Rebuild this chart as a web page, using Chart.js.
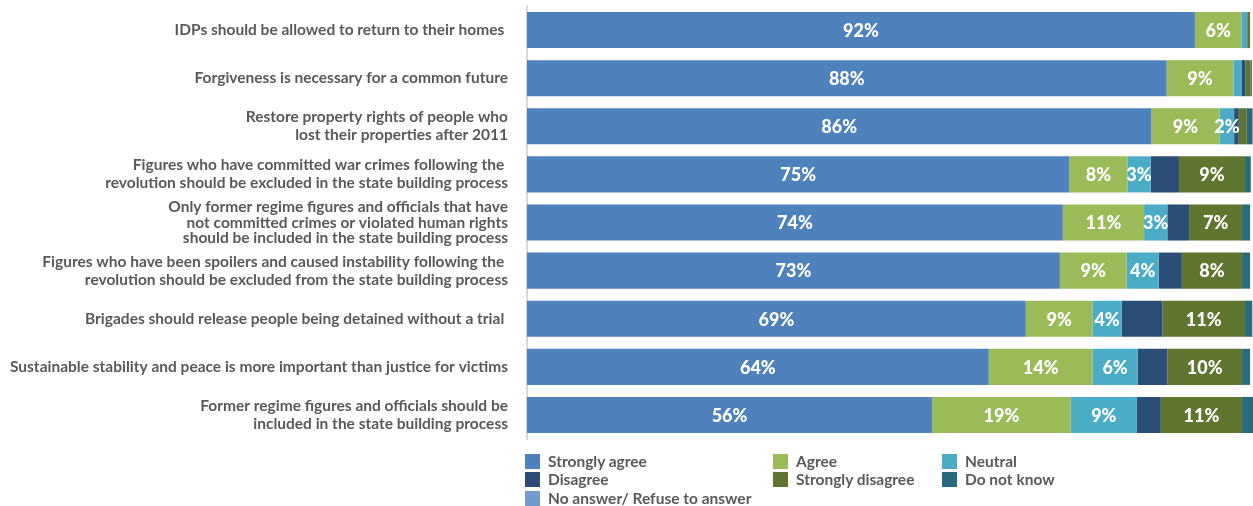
<!DOCTYPE html>
<html>
<head>
<meta charset="utf-8">
<script src="https://cdn.jsdelivr.net/npm/chart.js@4.4.1/dist/chart.umd.min.js"></script>
<style>
  html, body { margin: 0; padding: 0; background: #fff; }
  #wrap { position: relative; width: 1253px; height: 506px; }
  #chart { position: absolute; left: 0; top: 0; }
  .legend { position: absolute; font-family: Lato, "Open Sans", sans-serif; font-weight: 700; font-size: 15.5px; color: #595959; }
  .item { position: absolute; white-space: nowrap; display: flex; align-items: center; }
  .box { width: 15px; height: 15px; margin-right: 8px; }
</style>
</head>
<body>
<div id="wrap">
  <canvas id="chart" width="1253" height="506"></canvas>
  <div class="legend" id="legend"></div>
</div>
<script>
// Survey statements (multi-line labels as arrays)
const categories = [
  "IDPs should be allowed to return to their homes ",
  "Forgiveness is necessary for a common future",
  ["Restore property rights of people who", "lost their properties after 2011"],
  ["Figures who have committed war crimes following the ", "revolution should be excluded in the state building process"],
  ["Only former regime figures and officials that have", "not committed crimes or violated human rights", "should be included in the state building process"],
  ["Figures who have been spoilers and caused instability following the ", "revolution should be excluded from the state building process"],
  "Brigades should release people being detained without a trial ",
  "Sustainable stability and peace is more important than justice for victims",
  ["Former regime figures and officials should be", "included in the state building process"]
];

// Share of respondents (%) per answer
const stronglyAgree    = [92.0, 88.1, 86.0, 74.7, 73.8, 73.4, 68.7, 63.6, 55.8];
const agree            = [6.4, 9.2, 9.4, 8.0, 11.2, 9.2, 9.2, 14.3, 19.1];
const neutral          = [0.8, 1.1, 2.0, 3.2, 3.2, 4.4, 4.0, 6.2, 9.1];
const disagree         = [0.0, 0.55, 0.64, 3.9, 3.0, 3.2, 5.6, 4.1, 3.3];
const stronglyDisagree = [0.4, 0.7, 1.1, 9.1, 7.3, 8.3, 11.4, 10.3, 11.2];
const doNotKnow        = [0.0, 0.2, 0.8, 0.8, 1.1, 1.1, 1.0, 1.1, 1.5];
const noAnswer         = [0, 0, 0, 0, 0, 0, 0, 0, 0];

const series = [
  { label: "Strongly agree", data: stronglyAgree, color: "#4f81bd", showValue: true },
  { label: "Agree", data: agree, color: "#9bbb59", showValue: true },
  { label: "Neutral", data: neutral, color: "#4bacc6", showValue: true },
  { label: "Disagree", data: disagree, color: "#2c4d75", showValue: false },
  { label: "Strongly disagree", data: stronglyDisagree, color: "#5f7530", showValue: true },
  { label: "Do not know", data: doNotKnow, color: "#276a7c", showValue: false },
  { label: "No answer/ Refuse to answer", data: noAnswer, color: "#729aca", showValue: false }
];

// White percentage labels inside the segments
const segmentLabels = {
  id: "segmentLabels",
  afterDatasetsDraw(chart) {
    const ctx = chart.ctx;
    ctx.save();
    ctx.fillStyle = "#ffffff";
    ctx.font = "900 18px Lato, 'Open Sans', sans-serif";
    ctx.textAlign = "center";
    ctx.textBaseline = "middle";
    chart.data.datasets.forEach((ds, i) => {
      if (!ds.showValue) return;
      const meta = chart.getDatasetMeta(i);
      meta.data.forEach((bar, j) => {
        const v = ds.data[j];
        if (v < 1.5) return;
        const cx = (bar.base + bar.x) / 2;
        ctx.fillText(Math.round(v) + "%", cx, bar.y + 1);
      });
    });
    ctx.restore();
  }
};

new Chart(document.getElementById("chart"), {
  type: "bar",
  data: {
    labels: categories,
    datasets: series.map(s => ({
      label: s.label,
      data: s.data,
      backgroundColor: s.color,
      borderWidth: 0,
      showValue: s.showValue,
      barPercentage: 0.75,
      categoryPercentage: 1.0
    }))
  },
  options: {
    indexAxis: "y",
    responsive: false,
    animation: false,
    layout: { padding: { top: 6, bottom: 67, left: 0, right: 0 } },
    plugins: { legend: { display: false }, tooltip: { enabled: false } },
    scales: {
      x: { stacked: true, min: 0, max: 100, display: false },
      y: {
        stacked: true,
        grid: { display: false },
        border: { display: true, color: "#d9d9d9", width: 2 },
        ticks: {
          color: "#595959",
          font: (c) => ({
            family: "Lato, 'Open Sans', sans-serif",
            weight: "bold",
            size: 15.5,
            lineHeight: c.index === 4 ? 0.98 : 1.17
          }),
          padding: 11,
          autoSkip: false
        },
        afterFit(scale) {
          scale.width = 527;
          scale.paddingTop = 0;
          scale.paddingBottom = 0;
        }
      }
    }
  },
  plugins: [segmentLabels]
});

// Legend laid out in three columns under the bars
const legendPos = [
  [525, 452], [773, 452], [942, 452],
  [525, 470], [773, 470], [942, 470],
  [525, 489]
];
const legend = document.getElementById("legend");
series.forEach((s, i) => {
  const item = document.createElement("div");
  item.className = "item";
  item.style.left = legendPos[i][0] + "px";
  item.style.top = legendPos[i][1] + "px";
  item.innerHTML = '<span class="box" style="background:' + s.color + '"></span><span>' + s.label + '</span>';
  legend.appendChild(item);
});
</script>
</body>
</html>
